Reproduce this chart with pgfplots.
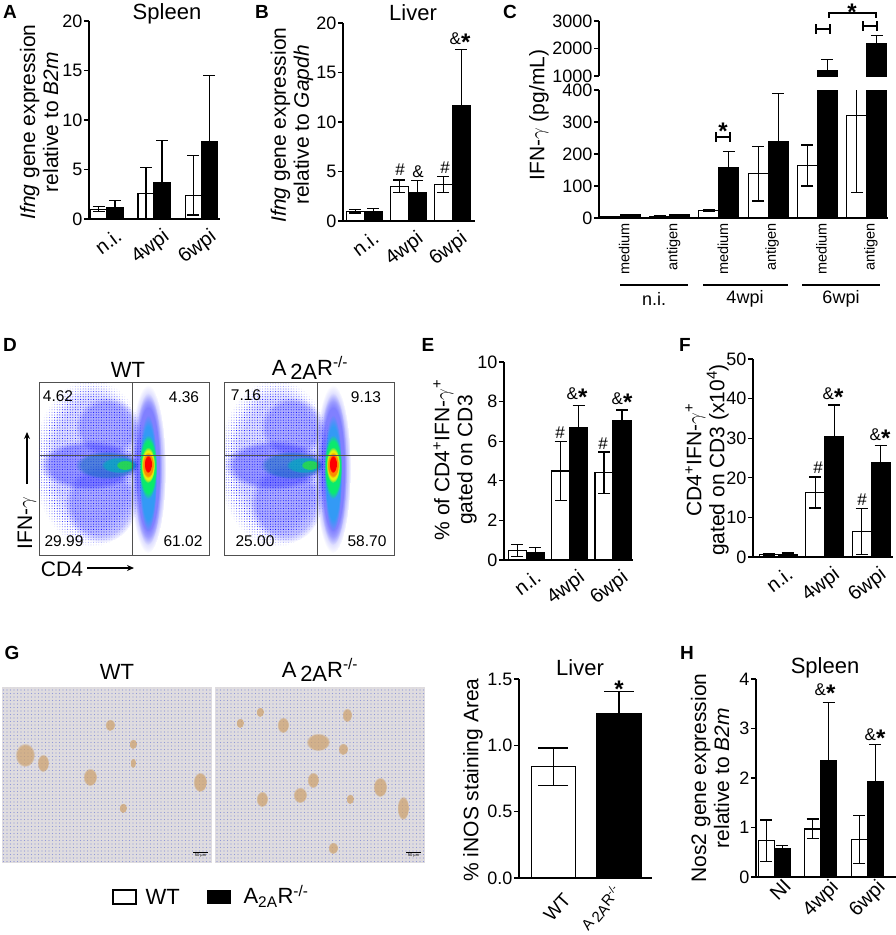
\documentclass[border=0pt]{standalone}
\usepackage{fontspec}
\setmainfont{Liberation Sans}
\usepackage{pgfplots}
\pgfplotsset{compat=1.18}
\usetikzlibrary{fadings,patterns.meta,arrows.meta}

\newcommand\tickf{\fontsize{18}{20}\selectfont}
\newcommand\xtf{\fontsize{20}{22}\selectfont}
\newcommand\labf{\fontsize{21}{23}\selectfont}
\newcommand\titf{\fontsize{22}{24}\selectfont}
\newcommand\panf{\fontsize{19}{20}\selectfont\bfseries}
\newcommand\annf{\fontsize{17}{18}\selectfont}
\newcommand\bst{{\fontsize{24}{20}\selectfont\bfseries\raisebox{-6pt}{*}}}
\newcommand\AAR{A\,\raisebox{-0.35ex}{2A}R\textsuperscript{-/-}}
\definecolor{tissue}{RGB}{223,220,223}
\definecolor{spot}{RGB}{205,160,105}
\definecolor{nuc}{RGB}{145,152,215}
\definecolor{gline}{RGB}{80,80,80}
\tikzset{pan/.style={font=\panf}}

\pgfplotsset{
  /pgf/number format/assume math mode=true,
  /pgf/number format/1000 sep={},
  barax/.style={scale only axis, anchor=south west, axis lines=left,
    axis line style={-, line width=1.3pt}, ymin=0, clip=false,
    tick align=outside, major tick length=5pt,
    ytick style={line width=1.3pt, black}, xtick style={draw=none},
    yticklabel style={font=\tickf, inner sep=1.5pt},
    xtick={0,1,2}, scaled y ticks=false},
  rotx/.style n args={3}{xticklabel style={font=\xtf, rotate=#1, anchor=north east, inner sep=0pt, xshift=#2, yshift=#3}},
  wt/.style n args={2}{ybar, bar width=#1, bar shift=0pt, fill=white, draw=black, line width=1.2pt,
    error bars/y dir=both, error bars/y explicit,
    error bars/error bar style={line width=1.2pt, black},
    error bars/error mark options={rotate=90, line width=1.2pt, black, mark size=#2}},
  ko/.style n args={2}{ybar, bar width=#1, bar shift=0pt, fill=black, draw=black, line width=1.2pt,
    error bars/y dir=plus, error bars/y explicit,
    error bars/error bar style={line width=1.2pt, black},
    error bars/error mark options={rotate=90, line width=1.2pt, black, mark size=#2}},
  flowax/.style={scale only axis, anchor=south west, width=170pt, height=173pt,
    xmin=0, xmax=170, ymin=0, ymax=173, xtick=\empty, ytick=\empty,
    axis line style={line width=1pt, gline}},
  imgax/.style={scale only axis, anchor=south west, width=210pt, height=176pt,
    xmin=0, xmax=210, ymin=0, ymax=176, hide axis},
}

\newcommand\fblob[6]{\fill[#1, opacity=#2, path fading=circle with fuzzy edge 20 percent] (axis cs:#3,#4) ellipse [x radius=#5pt, y radius=#6pt];}
\newcommand\pblob[6]{\fill[pattern={Dots[distance=#2pt, radius=0.55pt]}, pattern color=#1, path fading=circle with fuzzy edge 20 percent] (axis cs:#3,#4) ellipse [x radius=#5pt, y radius=#6pt];}
\newcommand\gspot[4]{\fill[spot, opacity=.7, path fading=circle with fuzzy edge 20 percent] (axis cs:#1,#2) ellipse [x radius=#3pt, y radius=#4pt];}
\newcommand\flowblobs{%
  \pblob{blue}{2.6}{52}{92}{58}{84}
  \fblob{blue!60!white}{.22}{55}{95}{50}{75}
  \pblob{blue}{2.0}{68}{128}{32}{30}
  \pblob{blue}{2.0}{62}{52}{36}{40}
  \fblob{blue!85!white}{.38}{50}{90}{50}{25}
  \fblob{cyan!50!blue}{.55}{68}{90}{32}{14}
  \fblob{cyan!70!green}{.7}{80}{90}{18}{8}
  \fblob{green!80!yellow}{.55}{86}{90}{9}{5}
  \pblob{blue}{2.0}{109}{86}{18}{84}
  \fblob{blue}{.35}{109}{86}{14}{76}
  \fblob{cyan}{.6}{109}{82}{9}{58}
  \fblob{green!70!cyan}{.8}{109}{88}{9}{32}
  \fblob{yellow}{.9}{109}{90}{7}{18}
  \fblob{orange}{.9}{109}{90}{6}{13}
  \fblob{red}{1}{109}{91}{4}{9}
  \draw[gline, line width=1pt] (axis cs:93,0) -- (axis cs:93,173);
  \draw[gline, line width=1pt] (axis cs:0,100) -- (axis cs:170,100);
}
\newcommand\tissue{%
  \fill[tissue] (axis cs:0,0) rectangle (axis cs:210,176);
  \fill[pattern={Dots[distance=3.5pt, radius=0.55pt]}, pattern color=nuc] (axis cs:0,0) rectangle (axis cs:210,176);
  \draw[black, line width=1pt] (axis cs:191,11) -- (axis cs:206,11);
  \node[font=\fontsize{4}{5}\selectfont, inner sep=0pt] at (axis cs:198.5,7) {50 µm};
}

\begin{document}
\begin{tikzpicture}
\useasboundingbox (0,0) rectangle (896pt,-935pt);

% ---------------- A ----------------
\begin{axis}[barax, rotx={37}{4pt}{-7pt}, at={(89pt,-219pt)}, width=131pt, height=198pt,
  xmin=-0.38, xmax=2.40, ymax=20, ytick={0,5,10,15,20}, xticklabels={n.i.,4wpi,6wpi}]
\addplot[wt={16pt}{6pt}] coordinates {(-0.17,1.0) +- (0,0.25) (0.83,2.6) +- (0,2.6) (1.83,2.4) += (0,4.0) -= (0,2.0)};
\addplot[ko={16pt}{6pt}] coordinates {(0.17,1.2) +- (0,0.7) (1.17,3.7) +- (0,4.2) (2.17,7.8) +- (0,6.7)};
\end{axis}
\node[pan] at (10pt,-12pt) {A};
\node[font=\titf] at (167pt,-14pt) {Spleen};
\node[rotate=90, align=center, font=\labf] at (39pt,-122pt) {\textit{Ifng} gene expression\\relative to \textit{B2m}};

% ---------------- B ----------------
\begin{axis}[barax, rotx={37}{4pt}{-7pt}, at={(343pt,-221pt)}, width=132pt, height=198pt,
  xmin=-0.48, xmax=2.52, ymax=20, ytick={0,5,10,15,20}, xticklabels={n.i.,4wpi,6wpi}]
\addplot[wt={18pt}{6pt}] coordinates {(-0.205,1.0) +- (0,0.2) (0.795,3.5) +- (0,0.65) (1.795,3.7) +- (0,0.8)};
\addplot[ko={18pt}{6pt}] coordinates {(0.205,1.0) +- (0,0.3) (1.205,2.9) +- (0,1.2) (2.205,11.7) +- (0,5.6)};
\end{axis}
\node[pan] at (262pt,-12pt) {B};
\node[font=\titf] at (413pt,-13pt) {Liver};
\node[rotate=90, align=center, font=\labf] at (292pt,-125pt) {\textit{Ifng} gene expression\\relative to \textit{Gapdh}};
\node[font=\annf] at (400pt,-170pt) {\#};
\node[font=\annf] at (418pt,-172pt) {\&};
\node[font=\annf] at (445pt,-168pt) {\#};
\node[font=\annf] at (460pt,-42pt) {\&\bst};

% ---------------- C ----------------
\begin{axis}[barax, at={(599pt,-218pt)}, width=289pt, height=128pt,
  xmin=-0.43, xmax=5.43, ymax=400, ytick={0,100,200,300,400},
  clip=true, clip mode=individual,
  xtick={0,...,5}, xticklabels={medium,antigen,medium,antigen,medium,antigen},
  xticklabel style={font=\fontsize{14.5}{16}\selectfont, rotate=90, anchor=east, inner sep=0pt, yshift=-4pt}]
\addplot[wt={20pt}{6pt}] coordinates {(-0.203,3) +- (0,1) (0.797,5) +- (0,1) (1.797,24) +- (0,2) (2.797,138) +- (0,85) (3.797,164) +- (0,64) (4.797,320) +- (0,240)};
\addplot[ko={20pt}{6pt}] coordinates {(0.203,10) +- (0,1) (1.203,10) +- (0,2) (2.203,158) +- (0,50) (3.203,239) +- (0,150) (4.203,1200) +- (0,400) (5.203,2180) +- (0,300)};
\end{axis}
\begin{axis}[scale only axis, anchor=south west, at={(599pt,-76pt)}, width=289pt, height=55pt,
  xmin=-0.43, xmax=5.43, ymin=1000, ymax=3000, ytick={1000,2000,3000},
  axis x line=none, axis y line=left, axis line style={-, line width=1.3pt},
  tick align=outside, major tick length=5pt, ytick style={line width=1.3pt, black},
  yticklabel style={font=\tickf, inner sep=1.5pt}, scaled y ticks=false,
  clip mode=individual]
\addplot[ko={20pt}{6pt}] coordinates {(4.203,1200) +- (0,400) (5.203,2180) +- (0,300)};
\end{axis}
\node[pan] at (510pt,-12pt) {C};
\node[rotate=90, font=\labf] at (539pt,-115pt) {IFN-$\gamma$ (pg/mL)};
\begin{scope}[line width=1.2pt]
\draw (716pt,-137pt) -- (730pt,-137pt) (716pt,-132pt) -- (716pt,-142pt) (730pt,-132pt) -- (730pt,-142pt);
\draw (816pt,-29pt) -- (830pt,-29pt) (816pt,-24pt) -- (816pt,-34pt) (830pt,-24pt) -- (830pt,-34pt);
\draw (863pt,-26pt) -- (877pt,-26pt) (863pt,-21pt) -- (863pt,-31pt) (877pt,-21pt) -- (877pt,-31pt);
\draw (829pt,-18pt) -- (829pt,-13pt) -- (876pt,-13pt) -- (876pt,-18pt);
\draw[line width=1.4pt] (620pt,-285pt) -- (688pt,-285pt) (703pt,-285pt) -- (788pt,-285pt) (802pt,-285pt) -- (880pt,-285pt);
\end{scope}
\node[inner sep=0pt] at (723pt,-131pt) {\bst};
\node[inner sep=0pt] at (852pt,-12pt) {\bst};
\node[font=\fontsize{18}{20}\selectfont] at (654pt,-299pt) {n.i.};
\node[font=\fontsize{18}{20}\selectfont] at (745pt,-299pt) {4wpi};
\node[font=\fontsize{18}{20}\selectfont] at (841pt,-299pt) {6wpi};

% ---------------- D ----------------
\begin{axis}[flowax, at={(39pt,-555pt)}]
\flowblobs
\end{axis}
\begin{axis}[flowax, at={(224pt,-555pt)}]
\flowblobs
\end{axis}
\node[pan] at (10pt,-345pt) {D};
\node[font=\titf] at (128pt,-370pt) {WT};
\node[font=\titf] at (310pt,-368pt) {\AAR};
\begin{scope}[font=\fontsize{15.5}{17}\selectfont]
\node at (58pt,-396pt) {4.62}; \node at (184pt,-397pt) {4.36};
\node at (64pt,-541pt) {29.99}; \node at (183pt,-541pt) {61.02};
\node at (246pt,-395pt) {7.16}; \node at (366pt,-397pt) {9.13};
\node at (255pt,-541pt) {25.00}; \node at (367pt,-541pt) {58.70};
\end{scope}
\node[rotate=90, font=\labf] at (27pt,-523pt) {IFN-$\gamma$};
\draw[-{Stealth[length=7pt,width=6pt]}, line width=1.1pt] (27pt,-484pt) -- (27pt,-432pt);
\node[font=\labf] at (62pt,-569pt) {CD4};
\draw[-{Stealth[length=7pt,width=6pt]}, line width=1.1pt] (87pt,-568pt) -- (134pt,-568pt);

% ---------------- E ----------------
\begin{axis}[barax, rotx={37}{4pt}{-7pt}, at={(504pt,-560pt)}, width=129pt, height=198pt,
  xmin=-0.51, xmax=2.46, ymax=10, ytick={0,2,4,6,8,10}, xticklabels={n.i.,4wpi,6wpi}]
\addplot[wt={18pt}{6pt}] coordinates {(-0.207,0.47) +- (0,0.3) (0.793,4.5) +- (0,1.5) (1.793,4.4) +- (0,1.05)};
\addplot[ko={18pt}{6pt}] coordinates {(0.207,0.37) +- (0,0.25) (1.207,6.7) +- (0,1.1) (2.207,7.03) +- (0,0.55)};
\end{axis}
\node[pan] at (428pt,-345pt) {E};
\node[rotate=90, align=center, font=\labf] at (455pt,-460pt) {\% of CD4\textsuperscript{+}IFN-$\gamma$\textsuperscript{+}\\gated on CD3};
\node[font=\annf] at (560pt,-433pt) {\#};
\node[font=\annf] at (577pt,-397pt) {\&\bst};
\node[font=\annf] at (603pt,-444pt) {\#};
\node[font=\annf] at (622pt,-402pt) {\&\bst};

% ---------------- F ----------------
\begin{axis}[barax, rotx={37}{4pt}{-7pt}, at={(753pt,-557pt)}, width=140pt, height=198pt,
  xmin=-0.54, xmax=2.47, ymax=50, ytick={0,10,20,30,40,50}, xticklabels={n.i.,4wpi,6wpi}]
\addplot[wt={19pt}{6pt}] coordinates {(-0.204,0.6) +- (0,0.2) (0.796,16.3) +- (0,3.9) (1.796,6.5) +- (0,5.8)};
\addplot[ko={19pt}{6pt}] coordinates {(0.204,0.7) +- (0,0.3) (1.204,30.4) +- (0,8.0) (2.204,23.9) +- (0,4.2)};
\end{axis}
\node[pan] at (685pt,-345pt) {F};
\node[rotate=90, align=center, font=\labf] at (707pt,-460pt) {CD4\textsuperscript{+}IFN-$\gamma$\textsuperscript{+}\\gated on CD3 (x10\textsuperscript{4})};
\node[font=\annf] at (818pt,-468pt) {\#};
\node[font=\annf] at (833pt,-397pt) {\&\bst};
\node[font=\annf] at (862pt,-500pt) {\#};
\node[font=\annf] at (880pt,-438pt) {\&\bst};

% ---------------- G ----------------
\begin{axis}[imgax, at={(2pt,-863pt)}]
\tissue
\gspot{23}{108}{10}{12} \gspot{41}{100}{6}{9} \gspot{88}{86}{7}{9} \gspot{108}{138}{5}{6}
\gspot{131}{119}{4}{5} \gspot{131}{100}{3}{5} \gspot{198}{81}{7}{10} \gspot{121}{55}{4}{5}
\end{axis}
\begin{axis}[imgax, at={(215pt,-863pt)}]
\tissue
\gspot{45}{151}{4}{5} \gspot{68}{138}{6}{8} \gspot{103}{121}{12}{9} \gspot{132}{148}{5}{7}
\gspot{128}{114}{5}{6} \gspot{98}{83}{6}{8} \gspot{85}{68}{7}{8} \gspot{47}{64}{6}{8}
\gspot{165}{76}{7}{10} \gspot{188}{55}{6}{12} \gspot{135}{64}{4}{5} \gspot{118}{15}{5}{6}
\gspot{25}{140}{4}{5}
\end{axis}
\node[pan] at (12pt,-653pt) {G};
\node[font=\titf] at (117pt,-672pt) {WT};
\node[font=\titf] at (320pt,-670pt) {\AAR};
\draw[line width=1.2pt, fill=white] (113pt,-890pt) rectangle (136pt,-904pt);
\node[anchor=west, font=\titf] at (142pt,-897pt) {WT};
\fill[black] (207pt,-890pt) rectangle (231pt,-904pt);
\node[anchor=west, font=\titf] at (240pt,-896pt) {A\textsubscript{2A}R\textsuperscript{-/-}};

% ---------------- Liver ----------------
\begin{axis}[barax, at={(519pt,-878pt)}, width=133pt, height=199pt,
  xmin=-0.52, xmax=1.5, ymax=1.5, ytick={0,0.5,1,1.5}, xtick={0,1}, xticklabels={},
  yticklabel style={/pgf/number format/fixed, /pgf/number format/fixed zerofill, /pgf/number format/precision=1}]
\addplot[wt={44pt}{15pt}] coordinates {(0,0.84) +- (0,0.14)};
\addplot[ko={44pt}{15pt}] coordinates {(1,1.24) +- (0,0.165)};
\node[font=\fontsize{19}{21}\selectfont, rotate=48, anchor=north east, inner sep=0pt] at ([xshift=9pt, yshift=-14pt]axis cs:0,0) {WT};
\node[font=\fontsize{15}{17}\selectfont, rotate=50, anchor=north east, inner sep=0pt] at ([xshift=-7pt, yshift=-5pt]axis cs:1,0) {\AAR};
\end{axis}
\node[font=\titf] at (580pt,-668pt) {Liver};
\node[rotate=90, font=\labf] at (473pt,-780pt) {\% iNOS staining Area};
\node[inner sep=0pt] at (619pt,-689pt) {\bst};

% ---------------- H ----------------
\begin{axis}[barax, rotx={45}{9pt}{-3pt}, at={(756pt,-877pt)}, width=140pt, height=198pt,
  xmin=-0.39, xmax=2.62, ymax=4, ytick={0,1,2,3,4}, xticklabels={NI,4wpi,6wpi}]
\addplot[wt={16pt}{6pt}] coordinates {(-0.172,0.73) +- (0,0.42) (0.828,0.97) +- (0,0.2) (1.828,0.76) +- (0,0.48)};
\addplot[ko={16pt}{6pt}] coordinates {(0.172,0.57) +- (0,0.07) (1.172,2.35) +- (0,1.18) (2.172,1.93) +- (0,0.74)};
\end{axis}
\node[pan] at (687pt,-653pt) {H};
\node[font=\titf] at (825pt,-668pt) {Spleen};
\node[rotate=90, align=center, font=\labf] at (710pt,-778pt) {Nos2 gene expression\\relative to \textit{B2m}};
\node[font=\annf] at (825pt,-693pt) {\&\bst};
\node[font=\annf] at (875pt,-738pt) {\&\bst};

\end{tikzpicture}
\end{document}
